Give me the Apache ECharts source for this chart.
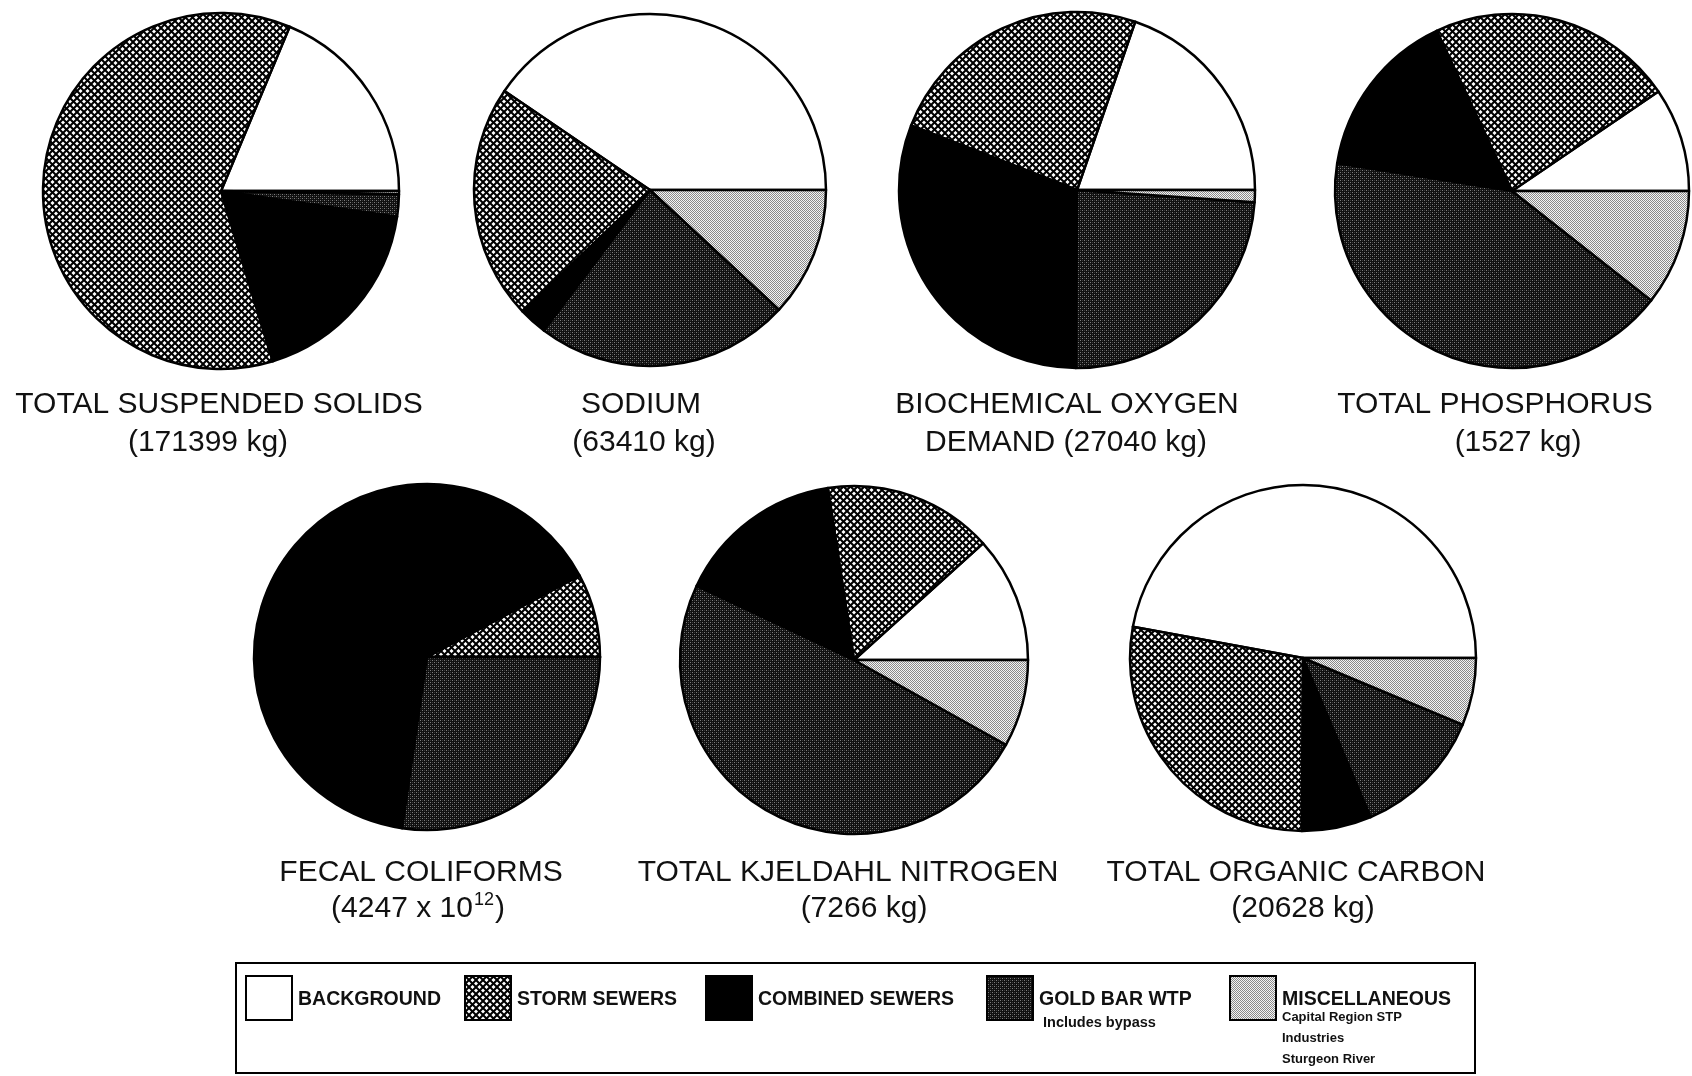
<!DOCTYPE html>
<html>
<head>
<meta charset="utf-8">
<title>Loadings by source</title>
<script src="https://cdn.jsdelivr.net/npm/echarts@6/dist/echarts.min.js"></script>
<style>
  html, body { margin: 0; padding: 0; background: #fff; }
  #chart { width: 1692px; height: 1076px; }
</style>
</head>
<body>
<div id="chart"></div>
<script>
// sources, in the order the slices run (anticlockwise from 3 o'clock)
const sources = ['BACKGROUND', 'STORM SEWERS', 'COMBINED SEWERS', 'GOLD BAR WTP', 'MISCELLANEOUS'];
const sourceNotes = [[], [], [], ['Includes bypass'], ['Capital Region STP', 'Industries', 'Sturgeon River']];

// share of the total load (%) per source
const suspendedSolids = [18.7, 61.0, 18.0, 2.0, 0.3];
const sodium = [40.5, 21.6, 2.6, 23.4, 11.9];
const oxygenDemand = [19.7, 24.4, 30.8, 24.0, 1.1];
const phosphorus = [9.5, 22.5, 15.5, 41.9, 10.6];
const fecalColiforms = [0, 7.8, 64.9, 27.3, 0];
const kjeldahlNitrogen = [11.7, 15.7, 15.6, 48.9, 8.1];
const organicCarbon = [47.1, 27.8, 6.5, 12.3, 6.3];

// caption lines under each pie
const captions = [
  ['TOTAL SUSPENDED SOLIDS', '(171399 kg)'],
  ['SODIUM', '(63410 kg)'],
  ['BIOCHEMICAL OXYGEN', 'DEMAND (27040 kg)'],
  ['TOTAL PHOSPHORUS', '(1527 kg)'],
  ['FECAL COLIFORMS', '{n|(4247 x 10}{s|12}{n|)}'],
  ['TOTAL KJELDAHL NITROGEN', '(7266 kg)'],
  ['TOTAL ORGANIC CARBON', '(20628 kg)']
];

const pieValues = [suspendedSolids, sodium, oxygenDemand, phosphorus, fecalColiforms, kjeldahlNitrogen, organicCarbon];

// where each pie and its caption sit on the page
const layout = [
  { cx: 221, cy: 191, r: 178, t1: [219, 405], t2: [208, 443] },
  { cx: 650, cy: 190, r: 176, t1: [641, 405], t2: [644, 443] },
  { cx: 1077, cy: 190, r: 178, t1: [1067, 405], t2: [1066, 443] },
  { cx: 1512, cy: 191, r: 177, t1: [1495, 405], t2: [1518, 443] },
  { cx: 427, cy: 657, r: 173, t1: [421, 873], t2: [418, 909] },
  { cx: 854, cy: 660, r: 174, t1: [848, 873], t2: [864, 909] },
  { cx: 1303, cy: 658, r: 173, t1: [1296, 873], t2: [1303, 909] }
];

const FONT = '"Liberation Sans", Arial, Helvetica, sans-serif';

function makeTile(size, draw) {
  const c = document.createElement('canvas');
  c.width = size;
  c.height = size;
  draw(c.getContext('2d'));
  return { image: c, repeat: 'repeat' };
}

// storm sewers: diagonal cross hatch
const crossHatch = makeTile(7, ctx => {
  ctx.fillStyle = '#fff';
  ctx.fillRect(0, 0, 7, 7);
  ctx.strokeStyle = '#000';
  ctx.lineWidth = 2;
  [-7, 0, 7].forEach(k => {
    ctx.beginPath(); ctx.moveTo(k - 1, -1); ctx.lineTo(k + 8, 8); ctx.stroke();
  });
  [0, 7, 14].forEach(k => {
    ctx.beginPath(); ctx.moveTo(k + 1, -1); ctx.lineTo(k - 8, 8); ctx.stroke();
  });
});

// gold bar: dark stipple
const darkStipple = makeTile(4, ctx => {
  ctx.fillStyle = '#101010';
  ctx.fillRect(0, 0, 4, 4);
  ctx.fillStyle = '#7c7c7c';
  [[0, 0], [2, 2]].forEach(p => ctx.fillRect(p[0], p[1], 1, 1));
  ctx.fillStyle = '#3a3a3a';
  [[2, 0], [0, 2]].forEach(p => ctx.fillRect(p[0], p[1], 1, 1));
});

// miscellaneous: light stipple
const lightStipple = makeTile(2, ctx => {
  ctx.fillStyle = '#f4f4f4';
  ctx.fillRect(0, 0, 2, 2);
  ctx.fillStyle = '#8a8a8a';
  ctx.fillRect(0, 0, 1, 1);
  ctx.fillRect(1, 1, 1, 1);
});

const fills = ['#ffffff', crossHatch, '#000000', darkStipple, lightStipple];

const chart = echarts.init(document.getElementById('chart'));

const series = pieValues.map((values, i) => ({
  type: 'pie',
  name: captions[i][0],
  center: [layout[i].cx, layout[i].cy],
  radius: layout[i].r,
  startAngle: 0,
  clockwise: false,
  silent: true,
  avoidLabelOverlap: false,
  label: { show: false },
  labelLine: { show: false },
  emphasis: { disabled: true },
  itemStyle: { borderColor: '#000', borderWidth: 2.5, borderJoin: 'round' },
  data: values.map((v, j) => ({ name: sources[j], value: v, itemStyle: { color: fills[j] } }))
}));

function text(x, y, str, font, align, extra) {
  return {
    type: 'text',
    x: x,
    y: y,
    silent: true,
    style: Object.assign({
      text: str,
      font: font,
      fill: '#111',
      textAlign: align,
      align: align,
      textVerticalAlign: 'middle',
      verticalAlign: 'middle'
    }, extra || {})
  };
}

const graphics = [];
captions.forEach((lines, i) => {
  const l = layout[i];
  graphics.push(text(l.t1[0], l.t1[1], lines[0], '30px ' + FONT, 'center'));
  graphics.push(text(l.t2[0], l.t2[1], lines[1], '30px ' + FONT, 'center', {
    rich: {
      n: { fontSize: 30, fontFamily: FONT, fill: '#111', lineHeight: 36 },
      s: { fontSize: 18, fontFamily: FONT, fill: '#111', verticalAlign: 'top', lineHeight: 36, padding: [0, 1, 0, 1] }
    }
  }));
});

// legend box
graphics.push({
  type: 'rect',
  silent: true,
  shape: { x: 236, y: 963, width: 1239, height: 110 },
  style: { fill: 'transparent', stroke: '#000', lineWidth: 2 }
});
const swatchX = [246, 465, 706, 987, 1230];
sources.forEach((name, j) => {
  graphics.push({
    type: 'rect',
    silent: true,
    shape: { x: swatchX[j], y: 976, width: 46, height: 44 },
    style: { fill: fills[j], stroke: '#000', lineWidth: 2 }
  });
  graphics.push(text(swatchX[j] + 52, 1000, name, 'bold 19.5px ' + FONT, 'left'));
  sourceNotes[j].forEach((note, k) => {
    if (j === 3) {
      graphics.push(text(swatchX[j] + 56, 1023, note, 'bold 14.5px ' + FONT, 'left'));
    } else {
      graphics.push(text(swatchX[j] + 52, 1017 + k * 21, note, 'bold 13px ' + FONT, 'left'));
    }
  });
});

chart.setOption({
  backgroundColor: '#fff',
  animation: false,
  series: series,
  graphic: { elements: graphics }
});
</script>
</body>
</html>
